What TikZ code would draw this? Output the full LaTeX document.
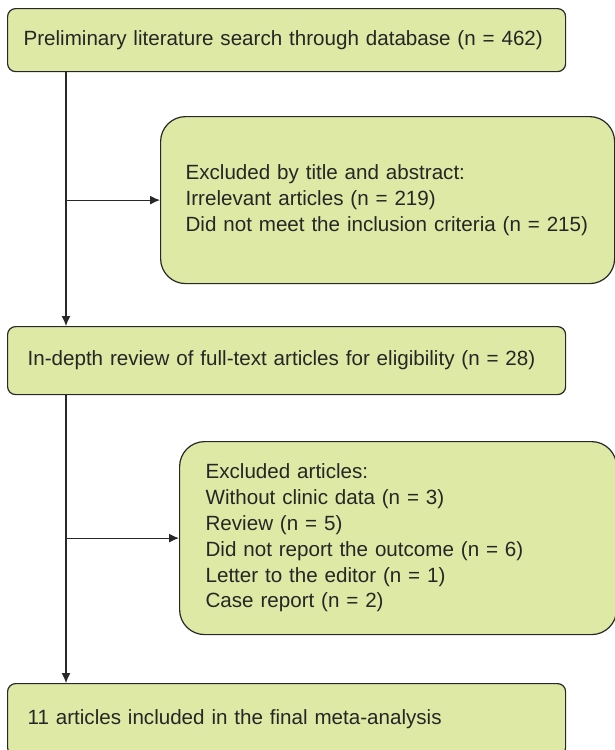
\documentclass[tikz,border=0pt]{standalone}
\usepackage{fontspec}
\setmainfont{Liberation Sans}
\usetikzlibrary{arrows.meta}
\definecolor{boxfill}{RGB}{222,233,165}
\definecolor{linec}{RGB}{40,40,40}
\newcommand{\oneline}[1]{\mbox{#1}}
\begin{document}
\begin{tikzpicture}[x=1pt,y=-1pt,
  box/.style={draw=linec, line width=1.2pt, fill=boxfill, anchor=north west,
    align=left, font=\fontsize{20.6}{25.8}\selectfont, inner ysep=0pt, text=black!85},
  smallround/.style={rounded corners=8pt},
  biground/.style={rounded corners=25pt},
  arr/.style={draw=linec, line width=1.2pt, -{Latex[length=10pt,width=9pt]}}]
\useasboundingbox (0,0) rectangle (615,750);
\clip (0,0) rectangle (615,750);
\node[box, smallround, minimum width=558pt, minimum height=63pt, inner xsep=16pt, text width=526pt] (b1) at (7,8)
  {\oneline{Preliminary literature search through database (n = 462)}};
\node[box, biground, minimum width=454pt, minimum height=167pt, inner xsep=25pt, text width=404pt] (b2) at (160,116)
  {\oneline{Excluded by title and abstract:}\\\oneline{Irrelevant articles (n = 219)}\\\oneline{Did not meet the inclusion criteria (n = 215)}};
\node[box, smallround, minimum width=558pt, minimum height=68pt, inner xsep=20pt, text width=518pt] (b3) at (7,326)
  {\oneline{In-depth review of full-text articles for eligibility (n = 28)}};
\node[box, biground, minimum width=437pt, minimum height=193pt, inner xsep=26pt, text width=385pt] (b4) at (179,441)
  {\oneline{Excluded articles:}\\\oneline{Without clinic data (n = 3)}\\\oneline{Review (n = 5)}\\\oneline{Did not report the outcome (n = 6)}\\\oneline{Letter to the editor (n = 1)}\\\oneline{Case report (n = 2)}};
\node[box, smallround, minimum width=558pt, minimum height=72pt, inner xsep=20pt, text width=518pt] (b5) at (7,683)
  {\oneline{11 articles included in the final meta-analysis}};
\coordinate (s1) at ([xshift=59pt]b1.south west);
\coordinate (s3) at ([xshift=59pt]b3.south west);
\draw[arr] (s1) -- (s1 |- b3.north);
\draw[arr] (b2.west -| s1) -- (b2.west);
\draw[arr] (s3) -- (s3 |- b5.north);
\draw[arr] (b4.west -| s3) -- (b4.west);
\end{tikzpicture}
\end{document}
